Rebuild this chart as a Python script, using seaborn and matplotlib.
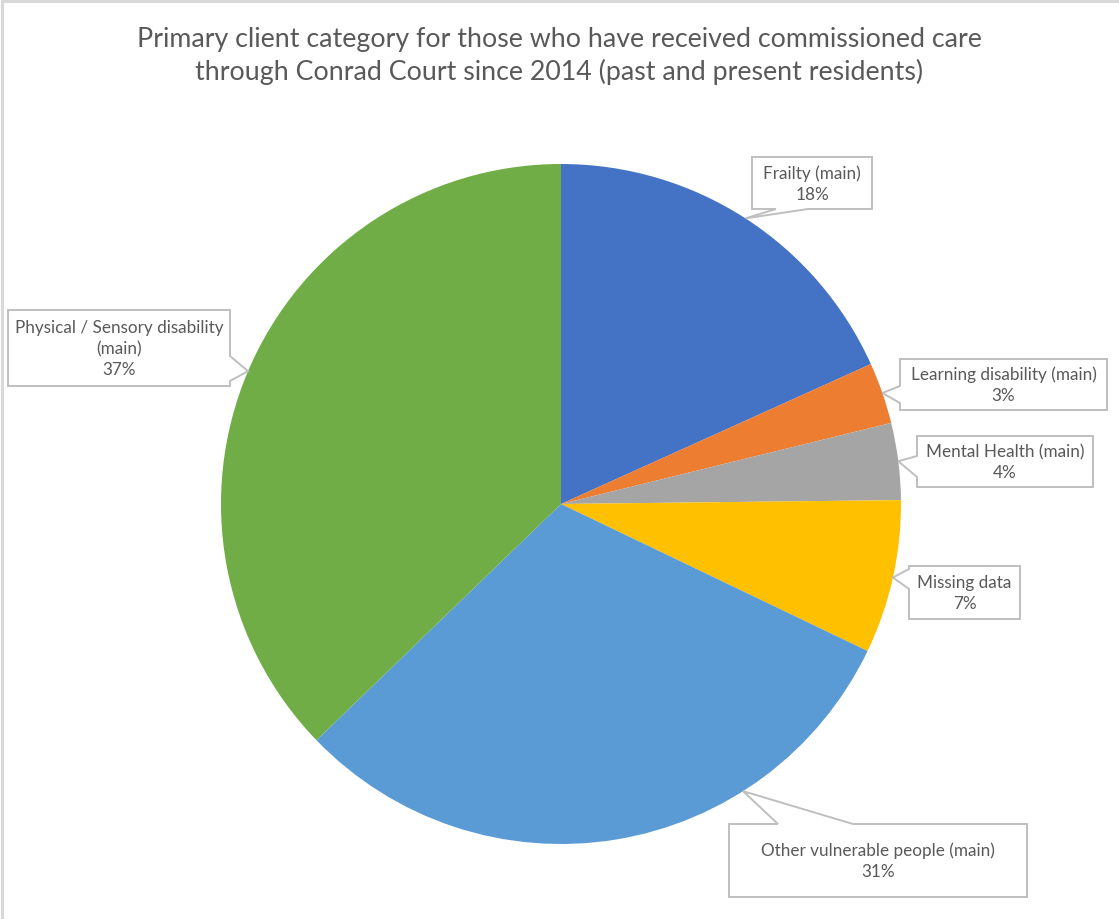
import numpy as np
import matplotlib
matplotlib.use("Agg")
import matplotlib.pyplot as plt
import seaborn as sns
from matplotlib.patches import Polygon

# Residents by primary client category (counts)
categories = [
    "Frailty (main)",
    "Learning disability (main)",
    "Mental Health (main)",
    "Missing data",
    "Other vulnerable people (main)",
    "Physical / Sensory disability\n(main)",
]
counts = [25, 4, 5, 10, 42, 51]
colors = ["#4472C4", "#ED7D31", "#A5A5A5", "#FFC000", "#5B9BD5", "#70AD47"]

title = ("Primary client category for those who have received commissioned care\n"
         "through Conrad Court since 2014 (past and present residents)")

sns.set_theme(style="white")
plt.rcParams["font.family"] = ["Lato", "DejaVu Sans"]

W, H = 1119, 920
fig = plt.figure(figsize=(W / 100, H / 100), dpi=100)
fig.patch.set_facecolor("white")

# Pie axes: centre (561, 505) px, radius 340 px
cx, cy, R = 561, 505, 340
ax = fig.add_axes([(cx - R) / W, (H - cy - R) / H, 2 * R / W, 2 * R / H])
wedges, _ = ax.pie(counts, colors=colors, startangle=90, counterclock=False,
                   radius=1.0, wedgeprops=dict(linewidth=0))
ax.set_xlim(-1, 1)
ax.set_ylim(-1, 1)
ax.set_aspect("equal")
ax.axis("off")

# Overlay axes in pixel coordinates (y downwards) for title, callouts, frame
ov = fig.add_axes([0, 0, 1, 1], zorder=5)
ov.set_xlim(0, W)
ov.set_ylim(H, 0)
ov.axis("off")
ov.patch.set_alpha(0)

txt_color = "#595959"
edge_color = "#BFBFBF"

ov.text(W / 2, 56, title, ha="center", va="center", fontsize=19.3,
        color=txt_color, linespacing=1.36)

# Frame lines along the top and left edges
ov.plot([1.5, W], [1.5, 1.5], color="#D9D9D9", lw=2.2, solid_capstyle="butt")
ov.plot([1.5, 1.5], [0, H], color="#D9D9D9", lw=2.2, solid_capstyle="butt")

# Callout layout: box (x0, y0, x1, y1), side carrying the tail, tail base span,
# and where along the wedge (clockwise from its leading edge) the tail points
callouts = [
    ((752, 158, 872, 210), "bottom", (776, 808), 0.5),
    ((900, 360, 1107, 411), "left", (387, 404), 0.5),
    ((917, 437, 1093, 488), "left", (457, 478), 0.5),
    ((909, 567, 1020, 620), "left", (570, 590), 0.5),
    ((729, 825, 1027, 898), "top", (778, 853), 0.29),
    ((8, 311, 230, 387), "right", (357, 382), 0.5),
]

total = sum(counts)
to_px = ax.transData + ov.transData.inverted()

for w, cat, n, (box, side, base, frac) in zip(wedges, categories, counts, callouts):
    t1, t2 = np.deg2rad(w.theta1), np.deg2rad(w.theta2)
    # wedges run clockwise, so each one starts at theta2
    a = t2 - frac * (t2 - t1)
    tip = tuple(to_px.transform((np.cos(a), np.sin(a))))
    x0, y0, x1, y1 = box
    b0, b1 = base
    if side == "bottom":
        verts = [(x0, y0), (x1, y0), (x1, y1), (b1, y1), tip, (b0, y1), (x0, y1)]
    elif side == "top":
        verts = [(x0, y0), (b0, y0), tip, (b1, y0), (x1, y0), (x1, y1), (x0, y1)]
    elif side == "left":
        verts = [(x0, y0), (x1, y0), (x1, y1), (x0, y1), (x0, b1), tip, (x0, b0)]
    else:  # right
        verts = [(x0, y0), (x1, y0), (x1, b0), tip, (x1, b1), (x1, y1), (x0, y1)]
    ov.add_patch(Polygon(verts, closed=True, facecolor="white",
                         edgecolor=edge_color, lw=1.4, joinstyle="miter"))
    pct = 100 * n / total
    ov.text((x0 + x1) / 2, (y0 + y1) / 2, f"{cat}\n{pct:.0f}%", ha="center",
            va="center", fontsize=12.3, color=txt_color, linespacing=1.38,
            multialignment="center")

fig.savefig("out.png", dpi=100, facecolor="white")
